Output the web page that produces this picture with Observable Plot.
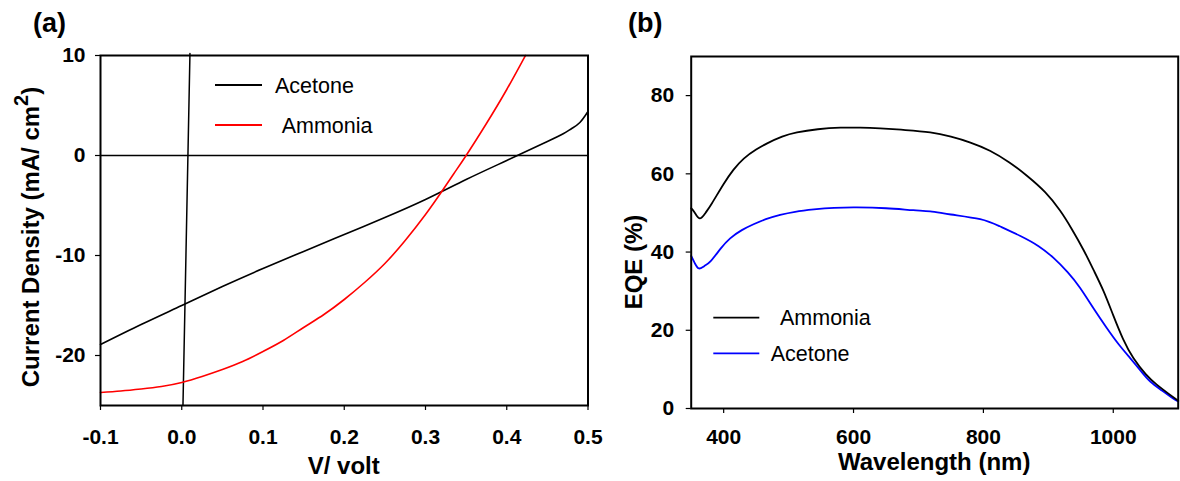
<!DOCTYPE html>
<html>
<head>
<meta charset="utf-8">
<script src="https://cdn.jsdelivr.net/npm/d3@7"></script>
<script src="https://cdn.jsdelivr.net/npm/@observablehq/plot@0.6"></script>
<style>
  body { margin: 0; background: #fff; }
  #wrap { position: relative; width: 1180px; height: 481px; overflow: hidden; background: #fff; }
  #wrap svg { position: absolute; top: 0; }
</style>
</head>
<body>
<div id="wrap"></div>
<script>
// ---------- Panel (a): J–V curves ----------
const acetoneV = [-0.1, -0.05, 0, 0.05, 0.1, 0.15, 0.2, 0.25, 0.3, 0.35, 0.4, 0.45, 0.47, 0.48, 0.49, 0.5];
const acetoneJ = [-18.9, -16.9, -15.0, -13.1, -11.3, -9.6, -7.9, -6.2, -4.4, -2.4, -0.5, 1.4, 2.2, 2.7, 3.3, 4.4];
const ammoniaV = [-0.1, -0.075, -0.05, -0.025, 0, 0.025, 0.05, 0.075, 0.1, 0.125, 0.15, 0.175, 0.2, 0.225, 0.25, 0.275, 0.3, 0.32, 0.335, 0.35, 0.375, 0.4, 0.423];
const ammoniaJ = [-23.7, -23.55, -23.35, -23.1, -22.7, -22.1, -21.4, -20.6, -19.6, -18.5, -17.2, -15.9, -14.4, -12.7, -10.8, -8.5, -5.9, -3.6, -1.8, 0, 3.2, 6.6, 10];
// near-vertical black trace in panel (a)
const steepV = [0.0015, 0.0101];
const steepJ = [-25, 10.2];
const voltTicks = [-0.1, 0, 0.1, 0.2, 0.3, 0.4, 0.5];
const currentTicks = [-20, -10, 0, 10];

// ---------- Panel (b): EQE spectra ----------
const eqeAmmoniaNm = [350, 355, 363, 372, 382, 400, 415, 431, 450, 467, 490, 513, 545, 580, 610, 641, 680, 718, 750, 780, 810, 840, 867, 895, 918, 936, 954, 970, 985, 1000, 1015, 1031, 1050, 1067, 1085, 1100];
const eqeAmmonia   = [51.2, 50.2, 48.6, 50.0, 52.5, 57.4, 61.0, 63.9, 66.2, 67.8, 69.5, 70.6, 71.4, 71.8, 71.8, 71.6, 71.2, 70.6, 69.5, 68.0, 65.9, 62.9, 59.5, 55.3, 50.6, 45.9, 40.6, 35.3, 30.0, 23.8, 17.8, 12.9, 8.8, 6.1, 3.8, 2.0];
const eqeAcetoneNm = [350, 356, 362, 370, 380, 395, 410, 428, 446, 465, 487, 510, 539, 570, 605, 650, 692, 718, 750, 795, 825, 857, 885, 908, 930, 949, 970, 990, 1008, 1026, 1042, 1057, 1075, 1090, 1100];
const eqeAcetone   = [39.0, 37.0, 35.8, 36.4, 37.7, 40.8, 43.5, 45.6, 47.1, 48.4, 49.5, 50.3, 50.9, 51.3, 51.4, 51.2, 50.7, 50.4, 49.6, 48.4, 46.6, 44.1, 41.5, 38.5, 34.8, 30.8, 25.5, 20.6, 16.5, 12.9, 9.7, 6.9, 4.6, 2.8, 1.8];
const nmTicks = [400, 600, 800, 1000];
const eqeTicks = [0, 20, 40, 60, 80];

const zip = (xs, ys) => xs.map((x, i) => ({x, y: ys[i]}));
const FONT = '"Liberation Sans", Arial, Helvetica, sans-serif';
const wrap = document.getElementById("wrap");

// ---------- Panel (a) ----------
const pa = Plot.plot({
  width: 590, height: 481,
  marginLeft: 100, marginRight: 2.5, marginTop: 55, marginBottom: 76,
  style: {fontFamily: FONT, background: "transparent", overflow: "visible", color: "black"},
  x: {domain: [-0.1, 0.5]},
  y: {domain: [-25, 10]},
  marks: [
    Plot.axisX({ticks: voltTicks, tickSize: 5, tickPadding: 19, tickFormat: d => d.toFixed(1),
      fontSize: 21, fontWeight: "bold", label: null, stroke: "black", strokeWidth: 1.2}),
    Plot.axisY({ticks: currentTicks, tickSize: 5, tickPadding: 10, tickFormat: d => String(d),
      fontSize: 21, fontWeight: "bold", label: null, stroke: "black", strokeWidth: 1.2}),
    Plot.ruleY([0], {stroke: "black", strokeWidth: 1.3}),
    Plot.line(zip(steepV, steepJ), {x: "x", y: "y", stroke: "black", strokeWidth: 1.5}),
    Plot.line(zip(acetoneV, acetoneJ), {x: "x", y: "y", stroke: "black", strokeWidth: 1.6, curve: "natural"}),
    Plot.line(zip(ammoniaV, ammoniaJ), {x: "x", y: "y", stroke: "#ff0000", strokeWidth: 1.6, curve: "natural"}),
    Plot.frame({stroke: "black", strokeWidth: 2})
  ]
});
pa.style.left = "0px";
wrap.appendChild(pa);

// ---------- Panel (b) ----------
const pb = Plot.plot({
  width: 590, height: 481,
  marginLeft: 100.7, marginRight: 2.3, marginTop: 56, marginBottom: 73,
  style: {fontFamily: FONT, background: "transparent", overflow: "visible", color: "black"},
  x: {domain: [350, 1100]},
  y: {domain: [0, 90]},
  marks: [
    Plot.axisX({ticks: nmTicks, tickSize: 5, tickPadding: 16, tickFormat: d => String(d),
      fontSize: 21, fontWeight: "bold", label: null, stroke: "black", strokeWidth: 1.2}),
    Plot.axisY({ticks: eqeTicks, tickSize: 5, tickPadding: 12, tickFormat: d => String(d),
      fontSize: 21, fontWeight: "bold", label: null, stroke: "black", strokeWidth: 1.2}),
    Plot.line(zip(eqeAcetoneNm, eqeAcetone), {x: "x", y: "y", stroke: "#0000ff", strokeWidth: 1.8, curve: "natural"}),
    Plot.line(zip(eqeAmmoniaNm, eqeAmmonia), {x: "x", y: "y", stroke: "black", strokeWidth: 1.8, curve: "natural"}),
    Plot.frame({stroke: "black", strokeWidth: 2})
  ]
});
pb.style.left = "590px";
wrap.appendChild(pb);

// ---------- Titles, panel letters and legends ----------
function addText(svg, x, y, str, opts = {}) {
  const t = d3.select(svg).append("text")
    .attr("x", x).attr("y", y)
    .attr("font-family", FONT)
    .attr("font-size", opts.size || 24)
    .attr("font-weight", opts.weight || "bold")
    .attr("text-anchor", opts.anchor || "middle")
    .attr("fill", "black");
  if (opts.dy) t.attr("dy", opts.dy);
  if (opts.rotate) t.attr("transform", `rotate(-90 ${x} ${y})`);
  t.text(str);
  return t;
}
function legendRow(svg, x1, x2, y, color, label, tx) {
  d3.select(svg).append("line").attr("x1", x1).attr("x2", x2).attr("y1", y).attr("y2", y)
    .attr("stroke", color).attr("stroke-width", 1.8);
  addText(svg, tx, y, label, {size: 21.5, weight: "normal", anchor: "start", dy: "0.35em"});
}

// panel (a)
addText(pa, 33, 32, "(a)", {size: 27, anchor: "start"});
addText(pa, 343.7, 474, "V/ volt");
const yl = addText(pa, 38.5, 237, "Current Density (mA/ cm", {rotate: true});
yl.append("tspan").attr("baseline-shift", "super").attr("font-size", 20).text("2");
yl.append("tspan").text(")");
legendRow(pa, 215, 262, 85, "black", "Acetone", 275);
legendRow(pa, 215, 262, 125, "#ff0000", "Ammonia", 281.7);

// panel (b)
addText(pb, 38, 32, "(b)", {size: 27, anchor: "start"});
addText(pb, 344.2, 470, "Wavelength (nm)");
addText(pb, 52, 262, "EQE (%)", {rotate: true});
legendRow(pb, 123.3, 169.3, 317.7, "black", "Ammonia", 190);
legendRow(pb, 123.3, 169.3, 353.3, "#0000ff", "Acetone", 180.7);
</script>
</body>
</html>
